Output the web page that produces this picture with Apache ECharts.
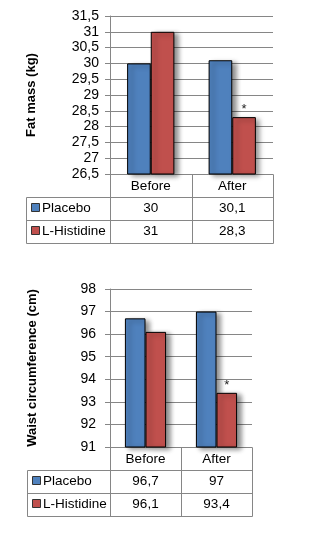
<!DOCTYPE html>
<html><head><meta charset="utf-8">
<script src="https://cdn.jsdelivr.net/npm/echarts@6/dist/echarts.min.js"></script>
<style>html,body{margin:0;padding:0;background:#fff}#c{width:328px;height:544px}</style>
</head><body><div id="c"></div>
<script>
const categories = ['Before', 'After'];
const seriesNames = ['Placebo', 'L-Histidine'];
const fatPlacebo = [30, 30.1];
const fatHistidine = [31, 28.3];
const waistPlacebo = [96.7, 97];
const waistHistidine = [96.1, 93.4];
const significance = ['', '*'];
const fatAxis = { name: 'Fat mass (kg)', min: 26.5, max: 31.5, interval: 0.5 };
const waistAxis = { name: 'Waist circumference (cm)', min: 91, max: 98, interval: 1 };

const FONT = 'Liberation Sans';
const colors = ['#4F81BD', '#C0504D'];
const lineColor = '#868686';

const grids = [
  { left: 110, top: 16, width: 163, height: 158, tableLeft: 26, nameGap: 72, labelMargin: 11 },
  { left: 110, top: 289, width: 142, height: 158, tableLeft: 27, nameGap: 71, labelMargin: 14 }
];
const rowH = [22.5, 23, 23];

const fmt = v => String(v).replace('.', ',');

const chart = echarts.init(document.getElementById('c'), null, { renderer: 'canvas' });

function yAxisFor(ax, gi) {
  return {
    type: 'value', gridIndex: gi, min: ax.min, max: ax.max, interval: ax.interval,
    name: ax.name, nameLocation: 'middle', nameRotate: 90, nameGap: grids[gi].nameGap,
    nameTextStyle: { fontFamily: FONT, fontWeight: 'bold', fontSize: 13, color: '#000' },
    axisLine: { show: true, lineStyle: { color: lineColor, width: 1 } },
    axisTick: { show: true, length: 5, lineStyle: { color: lineColor } },
    axisLabel: { formatter: fmt, fontFamily: FONT, fontSize: 14, color: '#000', margin: grids[gi].labelMargin },
    splitLine: { show: true, lineStyle: { color: lineColor, width: 1 } }
  };
}
function xAxisFor(gi) {
  return {
    type: 'category', gridIndex: gi, data: categories,
    axisLine: { show: true, lineStyle: { color: lineColor } },
    axisTick: { show: false },
    axisLabel: { fontFamily: FONT, fontSize: 13.5, color: '#000', margin: 5 }
  };
}
function barSeries(name, data, gi, ci, withSig) {
  return {
    type: 'bar', name, xAxisIndex: gi, yAxisIndex: gi,
    barGap: '0%', barCategoryGap: '42%',
    data: data.map((v, i) => withSig ? {
      value: v,
      label: { show: significance[i] !== '', formatter: significance[i], position: 'top', distance: 1,
        fontFamily: FONT, fontSize: 13, color: '#222' }
    } : v),
    itemStyle: { color: colors[ci], borderColor: '#000', borderWidth: 1,
      shadowBlur: 5, shadowColor: 'rgba(0,0,0,0.45)', shadowOffsetX: 4, shadowOffsetY: 2 },
    emphasis: { disabled: true },
    animation: false
  };
}

chart.setOption({
  animation: false,
  grid: grids.map(g => ({ left: g.left, top: g.top, width: g.width, height: g.height, containLabel: false })),
  xAxis: [xAxisFor(0), xAxisFor(1)],
  yAxis: [yAxisFor(fatAxis, 0), yAxisFor(waistAxis, 1)],
  series: [
    barSeries(seriesNames[0], fatPlacebo, 0, 0, false),
    barSeries(seriesNames[1], fatHistidine, 0, 1, true),
    barSeries(seriesNames[0], waistPlacebo, 1, 0, false),
    barSeries(seriesNames[1], waistHistidine, 1, 1, true)
  ]
});

// Data table beneath each chart
const tableData = [
  [fatPlacebo, fatHistidine],
  [waistPlacebo, waistHistidine]
];
const elements = [];
grids.forEach((g, gi) => {
  const right = g.left + g.width;
  const y0 = g.top + g.height;
  const ys = [y0, y0 + rowH[0], y0 + rowH[0] + rowH[1], y0 + rowH[0] + rowH[1] + rowH[2]];
  const ls = { stroke: lineColor, lineWidth: 1 };
  const line = (x1, y1, x2, y2) => elements.push({ type: 'line', silent: true,
    shape: { x1: Math.round(x1) + 0.5, y1: Math.round(y1) + 0.5, x2: Math.round(x2) + 0.5, y2: Math.round(y2) + 0.5 }, style: ls, z: 10 });
  line(g.tableLeft, ys[1], right, ys[1]);
  line(g.tableLeft, ys[2], right, ys[2]);
  line(g.tableLeft, ys[3], right, ys[3]);
  line(g.tableLeft, ys[1], g.tableLeft, ys[3]);
  line(g.left, y0, g.left, ys[3]);
  const cx = categories.map(c => chart.convertToPixel({ xAxisIndex: gi }, c));
  const mid = (cx[0] + cx[1]) / 2;
  line(mid, y0, mid, ys[3]);
  line(right, y0, right, ys[3]);
  tableData[gi].forEach((vals, si) => {
    const yc = (ys[si + 1] + ys[si + 2]) / 2;
    elements.push({ type: 'rect', silent: true, z: 11,
      shape: { x: g.tableLeft + 5.5, y: Math.round(yc - 4) - 0.5, width: 8, height: 8 },
      style: { fill: colors[si], stroke: '#333', lineWidth: 1 } });
    elements.push({ type: 'text', silent: true, z: 11, x: g.tableLeft + 16, y: yc,
      style: { text: seriesNames[si], fontFamily: FONT, fontSize: 13.5, fill: '#000', verticalAlign: 'middle' } });
    vals.forEach((v, ci) => {
      elements.push({ type: 'text', silent: true, z: 11, x: cx[ci], y: yc,
        style: { text: fmt(v), fontFamily: FONT, fontSize: 13.5, fill: '#000', align: 'center', verticalAlign: 'middle' } });
    });
  });
});
chart.setOption({ graphic: elements });
</script>
</body></html>
